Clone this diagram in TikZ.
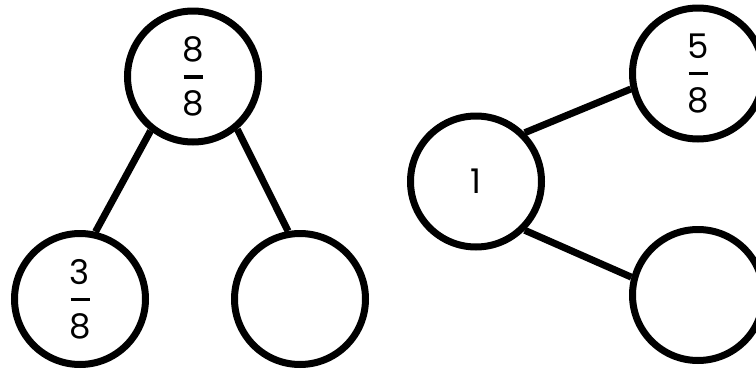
\documentclass[tikz,border=0pt]{standalone}
\usepackage{fontspec}
\setmainfont{Poppins}
\newcommand{\fracstack}[2]{\vbox{\offinterlineskip
  \hbox to 24pt{\hss #1\hss}\kern 13pt
  \hbox to 24pt{\hss\rule{19pt}{3.5pt}\hss}\kern 12pt
  \hbox to 24pt{\hss #2\hss}}}
\tikzset{
  ball/.style={circle, draw=black, line width=7pt, minimum size=131pt, inner sep=0pt, font=\fontsize{34}{34}\selectfont},
  link/.style={draw=black, line width=7pt}
}
\begin{document}
\begin{tikzpicture}[x=1pt,y=-1pt]
\useasboundingbox (0,0) rectangle (756,370);
\node[ball] (top) at (193,76.5) {\fracstack{8}{8}};
\node[ball] (bl) at (80,299) {\fracstack{3}{8}};
\node[ball] (bm) at (300,299) {};
\node[ball] (one) at (476,181.5) {1};
\node[ball] (tr) at (698,73.5) {\fracstack{5}{8}};
\node[ball] (br) at (698,295) {};
\draw[link] (top.232) -- (bl.77);
\draw[link] (top.310) -- (bm.100);
\draw[link] (one.45) -- (tr.193);
\draw[link] (one.-45) -- (br.165);
\end{tikzpicture}
\end{document}
